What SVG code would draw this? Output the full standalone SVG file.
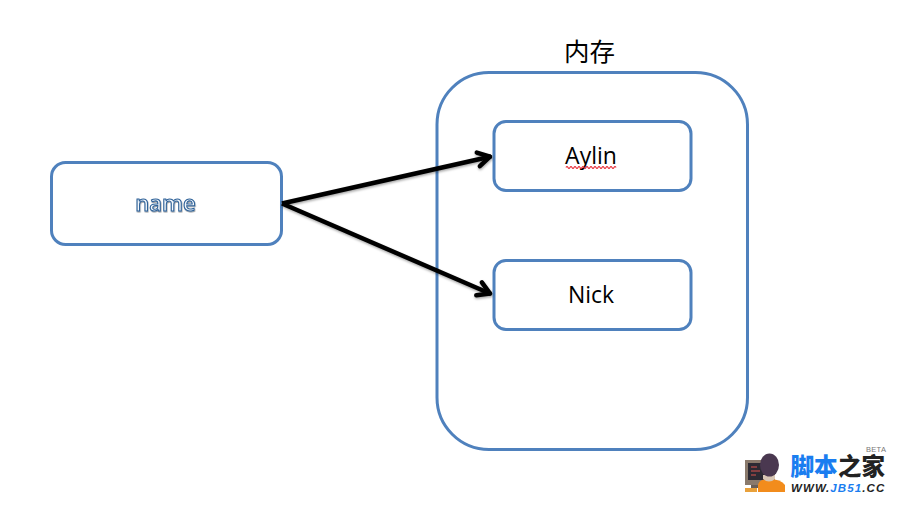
<svg xmlns="http://www.w3.org/2000/svg" width="902" height="505" viewBox="0 0 902 505">
  <defs>
    <filter id="soft" x="-10%" y="-30%" width="120%" height="160%">
      <feDropShadow dx="0.5" dy="1.5" stdDeviation="1.2" flood-color="#000" flood-opacity="0.35"/>
    </filter>
    <filter id="textShade" x="-10%" y="-20%" width="120%" height="140%">
      <feDropShadow dx="0.5" dy="1" stdDeviation="0.7" flood-color="#000" flood-opacity="0.4"/>
    </filter>
    <marker id="open" viewBox="0 0 20 20" refX="17" refY="10" markerWidth="20" markerHeight="20" markerUnits="userSpaceOnUse" orient="auto">
      <path d="M4 3 L16 10 L4 17" fill="none" stroke="#000" stroke-width="4.500" stroke-linejoin="round" stroke-linecap="round"/>
    </marker>
  </defs>
  <style>
    .box { fill: #fff; stroke: #4f81bd; stroke-width: 3; }
    .label { font-family: "Open Sans", "Liberation Sans", sans-serif; font-size: 23px; fill: #000; text-anchor: middle; }
    .link { fill: none; stroke: #000; stroke-width: 4.500; marker-end: url(#open); }
    .logo-cn { font-family: "Noto Sans CJK SC", sans-serif; font-size: 23.500px; font-weight: 900; }
    .logo-en { font-family: "Liberation Sans", sans-serif; font-weight: 700; font-style: italic; font-size: 11.500px; letter-spacing: 1.100px; }
  </style>
  <rect width="902" height="505" fill="#fff"/>

  <g id="memory">
    <rect class="box" x="437" y="72.500" width="310.500" height="377" rx="52" ry="52"/>
    <text x="589.500" y="61" font-family="'Noto Sans CJK SC', sans-serif" font-size="25.500" text-anchor="middle" fill="#000">内存</text>
  </g>

  <g id="name">
    <rect class="box" x="51.500" y="162.500" width="230" height="82" rx="14" ry="14"/>
    <text x="165.500" y="211" text-anchor="middle" font-family="'Open Sans', sans-serif" font-size="22" font-weight="600" fill="#f4f8fc" stroke="#2f6299" stroke-width="1.100" filter="url(#textShade)">name</text>
  </g>

  <g id="aylin">
    <rect class="box" x="494" y="121.500" width="197" height="69" rx="12" ry="12"/>
    <text class="label" x="591" y="164">Aylin</text>
    <path d="M566 167.500 q1 -2 2 0 t2 0 t2 0 t2 0 t2 0 t2 0 t2 0 t2 0 t2 0 t2 0 t2 0 t2 0 t2 0 t2 0 t2 0 t2 0 t2 0 t2 0 t2 0 t2 0 t2 0 t2 0 t2 0 t2 0 t2 0" fill="none" stroke="#e8303a" stroke-width="1.200"/>
  </g>

  <g id="nick">
    <rect class="box" x="494" y="260.500" width="197" height="69" rx="12" ry="12"/>
    <text class="label" x="591" y="303">Nick</text>
  </g>

  <g id="connectors" filter="url(#soft)">
    <line class="link" x1="282" y1="203.500" x2="491" y2="156.500"/>
    <line class="link" x1="282" y1="203.500" x2="491" y2="294"/>
  </g>

  <g id="site-badge">
    <!-- monitor -->
    <rect x="745" y="460" width="30" height="25" fill="#8a7a6c"/>
    <rect x="748" y="463" width="24" height="17" fill="#2d2a33"/>
    <path d="M751 467h6M751 471h9M751 475h5" stroke="#d9534f" stroke-width="1.200"/>
    <rect x="751" y="485" width="10" height="3" fill="#6b6058"/>
    <rect x="745" y="488" width="12" height="4" fill="#e9a13b"/>
    <!-- figure -->
    <path d="M758 492 v-7 q1 -6 11 -6 q12 0 16 6 v7 z" fill="#f28c1c"/>
    <path d="M763 479 q6 5 12 0 v-4 h-12 z" fill="#d8c6b4"/>
    <ellipse cx="769.500" cy="465" rx="9.500" ry="11.500" fill="#4a3850"/>
    <!-- wordmark -->
    <text class="logo-cn" x="790.500" y="475" fill="#1a7df0">脚本</text>
    <text class="logo-cn" x="838" y="475" fill="#222">之家</text>
    <text x="866" y="452" font-family="'Liberation Sans', sans-serif" font-size="7.500" letter-spacing="0.300" fill="#777">BETA</text>
    <text class="logo-en" x="791" y="492" fill="#222">WWW.<tspan fill="#1a7df0">JB51</tspan>.CC</text>
  </g>
</svg>
